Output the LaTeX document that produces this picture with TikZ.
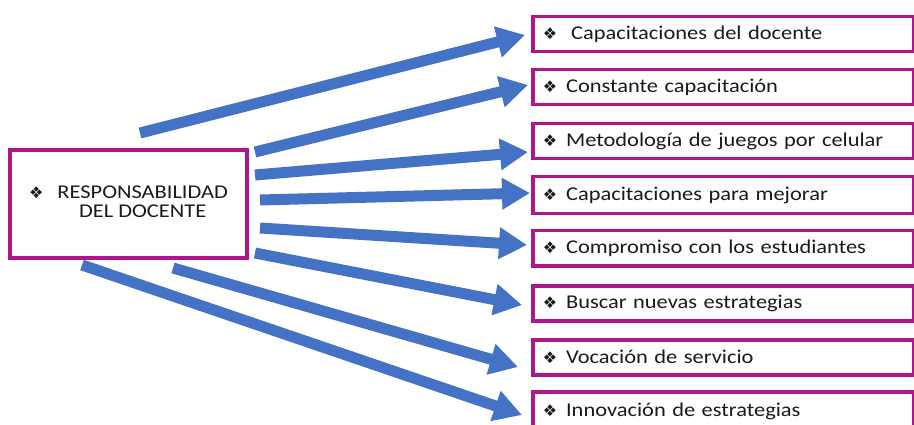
\documentclass[tikz,border=0pt]{standalone}
\usepackage{fontspec}
\setmainfont{Carlito}[FakeStretch=1.15]
\newfontfamily\symfont{DejaVu Sans}
\usetikzlibrary{arrows.meta}
\definecolor{mag}{HTML}{B0168C}
\definecolor{arrblue}{HTML}{4472C4}
\definecolor{txt}{HTML}{1A1A1A}
\newcommand{\bul}{{\symfont\fontsize{16}{16}\selectfont ❖}}
\begin{document}
\begin{tikzpicture}[x=1pt,y=-1pt,
  box/.style={draw=mag, line width=3.5pt, anchor=north west, minimum height=35pt,
    text width=361pt, inner xsep=10pt, inner ysep=0pt, align=left,
    font=\fontsize{19.5}{22}\selectfont, text=txt},
  mainbox/.style={draw=mag, line width=3.5pt, minimum width=237pt, minimum height=108pt,
    inner sep=0pt, font=\fontsize{19.5}{20}\selectfont, text=txt},
  arr/.style={arrblue, line width=11pt, -{Triangle[length=28pt,width=30pt]}}]
\useasboundingbox (0,0) rectangle (914,425);
\fill[white] (0,0) rectangle (914,425);

\node[mainbox] (c) at (128.5,204) {\begin{tabular}{@{}l@{\hspace{14pt}}c@{}}\bul & RESPONSABILIDAD\\[-1pt] & DEL DOCENTE\end{tabular}};

\node[box] (b1) at (531,15)  {\bul\hspace{14pt}Capacitaciones del docente};
\node[box] (b2) at (531,68)  {\bul\hspace{9pt}Constante capacitación};
\node[box] (b3) at (531,122) {\bul\hspace{9pt}Metodología de juegos por celular};
\node[box, minimum height=37pt] (b4) at (531,175) {\bul\hspace{9pt}Capacitaciones para mejorar};
\node[box] (b5) at (531,229) {\bul\hspace{9pt}Compromiso con los estudiantes};
\node[box] (b6) at (531,284) {\bul\hspace{9pt}Buscar nuevas estrategias};
\node[box] (b7) at (531,338) {\bul\hspace{9pt}Vocación de servicio};
\node[box, minimum height=40pt] (b8) at (531,390) {\bul\hspace{9pt}Innovación de estrategias};

\coordinate (t1) at (140,133); \coordinate (h1) at (525,35);
\coordinate (t2) at (255,152); \coordinate (h2) at (528,85);
\coordinate (t3) at (255,175); \coordinate (h3) at (528,152);
\coordinate (t4) at (260,200); \coordinate (h4) at (530,193);
\coordinate (t5) at (260,228); \coordinate (h5) at (527,245);
\coordinate (t6) at (255,253); \coordinate (h6) at (522,305);
\coordinate (t7) at (173,268); \coordinate (h7) at (518,367);
\coordinate (t8) at (82,265);  \coordinate (h8) at (522,415);

\foreach \i in {1,...,8} {\draw[arr] (t\i) -- (h\i);}
\end{tikzpicture}
\end{document}
